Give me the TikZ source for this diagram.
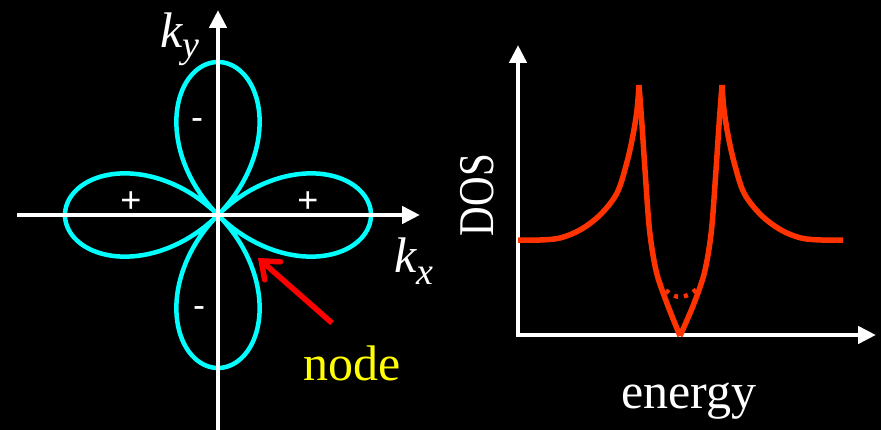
\documentclass[tikz,border=0pt]{standalone}
\usepackage{fontspec}
\setmainfont{Liberation Serif}
\setsansfont{Liberation Sans}
\usetikzlibrary{arrows.meta}
\definecolor{lobecyan}{RGB}{0,255,255}
\definecolor{dosred}{RGB}{255,51,0}
\definecolor{arrred}{RGB}{255,0,0}
\definecolor{lblyellow}{RGB}{255,255,0}
\begin{document}
\begin{tikzpicture}[x=1pt,y=-1pt,
  axisline/.style={white,line width=4.5pt,-{Triangle[length=18pt,width=17pt]}},
  lobe/.style={lobecyan,line width=4.5pt,line join=round},
  doscurve/.style={dosred,line width=5.5pt,line join=round,line cap=butt},
  lbl/.style={white,inner sep=0pt,font=\fontsize{50}{54}\selectfont},
  sign/.style={white,inner sep=0pt,font=\sffamily\fontsize{36}{38}\selectfont}]
\fill[black] (0,0) rectangle (881,430);
\useasboundingbox (0,0) rectangle (881,430);
% left axes
\coordinate (xs) at (17,215);
\coordinate (xe) at (420,215);
\coordinate (ys) at (218,430);
\coordinate (ye) at (218,10);
% lobes
\draw[lobe] plot[domain=0:360,samples=361]
  ({218+153*abs(cos(2*\x))*cos(\x)},{215+153*abs(cos(2*\x))*sin(\x)});
\draw[axisline] (xs) -- (xe);
\draw[axisline] (ys) -- (ye);
% labels
\node[lbl,anchor=base west] (ky) at (160,48) {\itshape k\raisebox{-10pt}{\fontsize{38}{40}\selectfont y}};
\node[lbl,anchor=base west] (kx) at (394,273) {\itshape k\raisebox{-12pt}{\fontsize{38}{40}\selectfont x}};
\node[sign] (pl) at (131,202) {+};
\node[sign] (pr) at (308,202) {+};
\node[sign] (mt) at (197,124) {-};
\node[sign] (mb) at (199,312) {-};
% node arrow
\node[lbl,text=lblyellow,anchor=base] (nodelbl) at (352,380) {node};
\coordinate (arrs) at (332,323);
\coordinate (arre) at (258,258);
\draw[arrred,line width=5.5pt,-{Straight Barb[length=15pt,width=24pt,line cap=round]}] (arrs) -- (arre);
% DOS axes
\coordinate (o) at (518,337);
\coordinate (dye) at (518,45);
\coordinate (dxs) at (515.75,335);
\coordinate (dxe) at (876,335);
\draw[axisline] (o) -- (dye);
\draw[axisline] (dxs) -- (dxe);
% DOS curve
\draw[doscurve] plot[smooth,tension=0.55] coordinates {(518,240) (540,240) (560,238) (580,230) (600,215) (617,193) (627,162) (633,135) (637,110) (639,85)};
\draw[doscurve] plot[smooth,tension=0.5] coordinates {(639,85) (642,125) (645,170) (649,225) (653,255) (658,278) (668,306) (680,336)};
\draw[doscurve] plot[smooth,tension=0.5] coordinates {(680,336) (693,306) (703,278) (708,255) (712,225) (716,170) (719,125) (722,85)};
\draw[doscurve] plot[smooth,tension=0.55] coordinates {(722,85) (724,110) (728,135) (734,162) (744,193) (761,215) (781,230) (801,238) (821,240) (843,240)};
\draw[dosred,line width=4.5pt,dash pattern=on 4pt off 6pt] plot[smooth] coordinates {(659,283) (669,293) (680,297) (692,293) (702,283)};
% DOS labels
\node[lbl,rotate=90] (dos) at (477,195) {\scalebox{0.82}[1]{DOS}};
\node[lbl,anchor=base] (energy) at (689,408) {energy};
\end{tikzpicture}
\end{document}
